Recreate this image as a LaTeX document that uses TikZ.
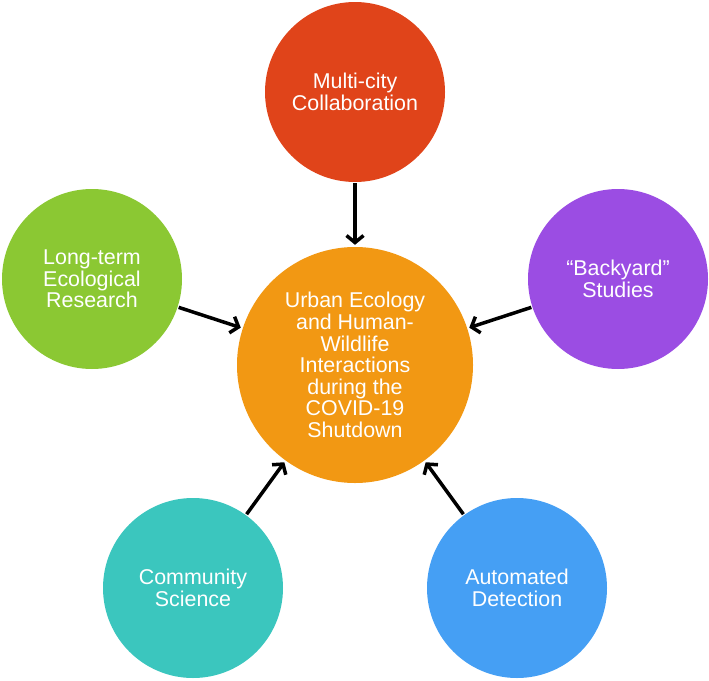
\documentclass[tikz,border=0pt]{standalone}
\usepackage{fontspec}
\setmainfont{Liberation Sans}
\usetikzlibrary{arrows.meta,positioning}
\definecolor{ueHub}{HTML}{F29813}
\definecolor{ueCity}{HTML}{E0441A}
\definecolor{ueLter}{HTML}{8BC833}
\definecolor{ueYard}{HTML}{9B4DE3}
\definecolor{ueComm}{HTML}{3BC6BE}
\definecolor{ueAuto}{HTML}{459FF4}
\tikzset{
  uenode/.style={
    circle, draw=none, inner sep=0pt, minimum size=180pt,
    text=white, align=center, font=\fontsize{21.4pt}{21.6pt}\selectfont
  },
  hub/.style={uenode, fill=ueHub, minimum size=236pt},
  feed/.style={-{Straight Barb[length=7pt,width=17pt]}, line width=3.5pt, black,
    shorten <=1pt, shorten >=2pt}
}
\begin{document}
\begin{tikzpicture}[x=1pt, y=-1pt]
  \useasboundingbox (0,0) rectangle (709,680);
  \node[hub] (hub) at (355,365) {Urban Ecology\\and Human-\\Wildlife\\Interactions\\during the\\COVID-19\\Shutdown};
  \node[uenode, fill=ueCity] (city) at (355,92) {Multi-city\\Collaboration};
  \node[uenode, fill=ueLter] (lter) at (92,279) {Long-term\\Ecological\\Research};
  \node[uenode, fill=ueYard] (yard) at (618,279) {“Backyard”\\Studies};
  \node[uenode, fill=ueComm] (comm) at (193,588) {Community\\Science};
  \node[uenode, fill=ueAuto] (auto) at (517,588) {Automated\\Detection};
  \foreach \n in {city,lter,yard,comm,auto}{\draw[feed] (\n) -- (hub);}
\end{tikzpicture}
\end{document}
